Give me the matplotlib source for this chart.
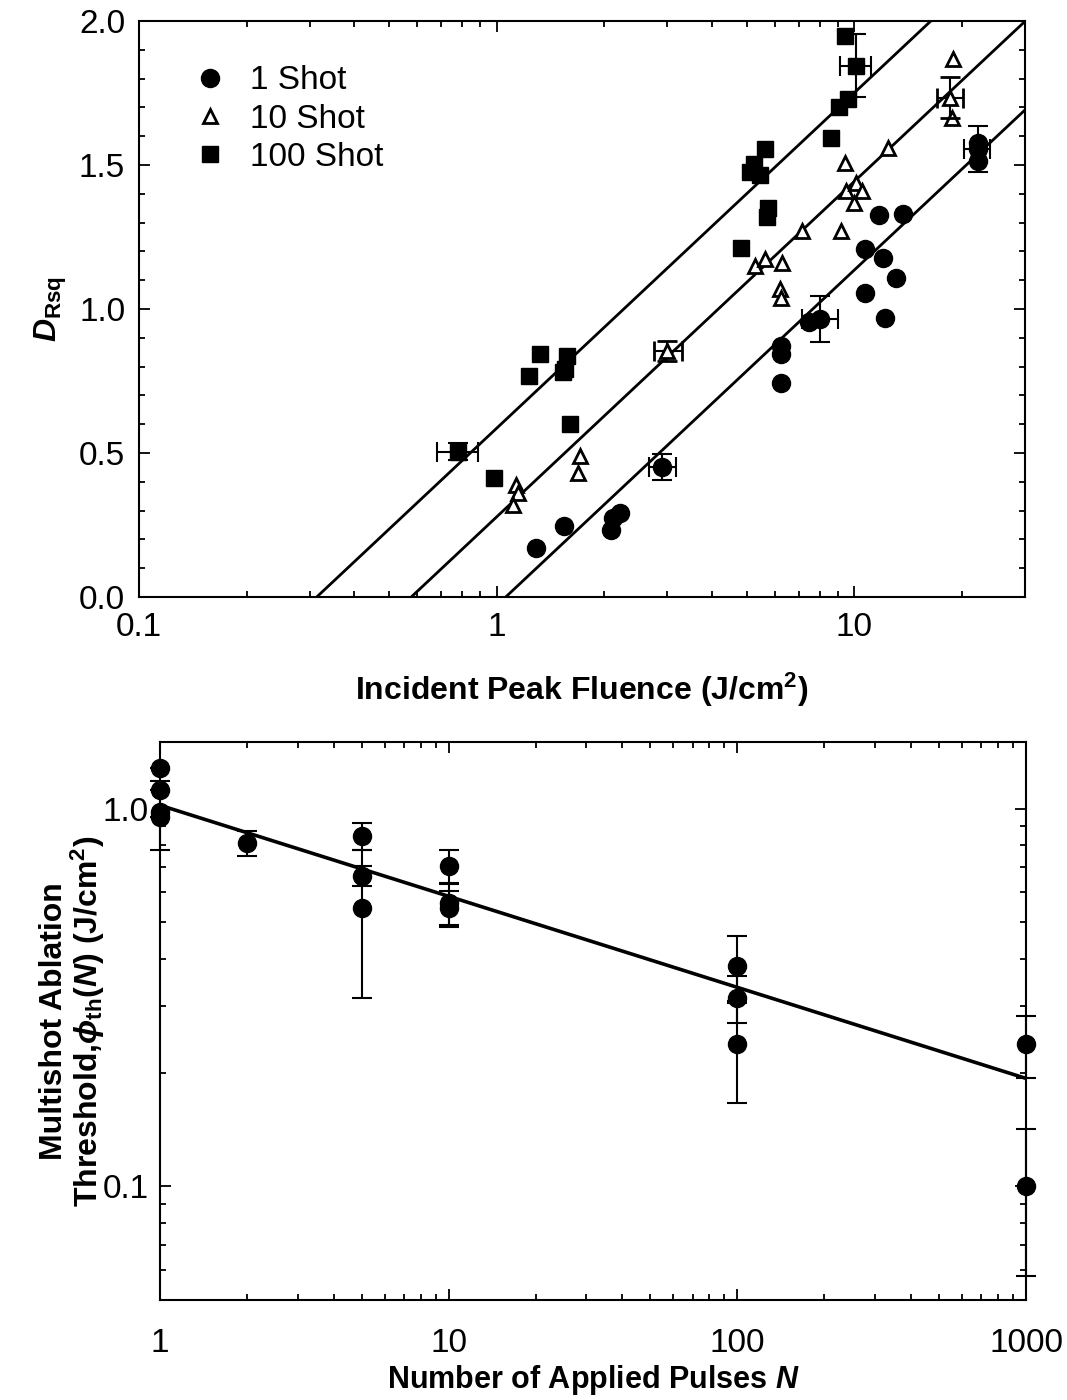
import numpy as np
import matplotlib
matplotlib.use("Agg")
import matplotlib.pyplot as plt
from matplotlib.ticker import LogLocator, FuncFormatter, MultipleLocator, NullFormatter

plt.rcParams['font.family'] = ['Liberation Sans', 'DejaVu Sans']
plt.rcParams['mathtext.fontset'] = 'custom'
plt.rcParams['mathtext.rm'] = 'Liberation Sans:bold'
plt.rcParams['mathtext.bf'] = 'Liberation Sans:bold'
plt.rcParams['mathtext.it'] = 'Liberation Sans:bold:italic'
plt.rcParams['mathtext.fallback'] = 'stixsans'

# --- top panel: D_Rsq vs incident peak fluence ---
f1 = [1.29, 1.54, 2.09, 2.11, 2.21, 6.23, 6.23, 6.23, 7.45, 10.7, 10.7, 11.7, 12.0, 12.2, 13.1, 13.7, 22.2, 22.2]
d1 = [0.17, 0.245, 0.233, 0.274, 0.293, 0.871, 0.842, 0.743, 0.954, 1.207, 1.056, 1.325, 1.178, 0.969, 1.109, 1.329, 1.578, 1.514]
f10 = [1.13, 1.15, 1.11, 1.71, 1.69, 5.29, 5.64, 6.27, 6.2, 6.25, 7.13, 9.2, 9.42, 9.5, 10.0, 10.1, 10.5, 12.4, 18.9, 18.7]
d10 = [0.39, 0.36, 0.32, 0.488, 0.43, 1.149, 1.172, 1.161, 1.068, 1.039, 1.271, 1.271, 1.508, 1.41, 1.369, 1.439, 1.41, 1.56, 1.868, 1.664]
f100 = [0.98, 1.23, 1.32, 1.53, 1.55, 1.57, 1.60, 4.83, 5.1, 5.25, 5.45, 5.64, 5.7, 5.75, 8.58, 9.03, 9.42, 9.62]
d100 = [0.413, 0.766, 0.845, 0.78, 0.79, 0.835, 0.60, 1.213, 1.475, 1.505, 1.465, 1.555, 1.32, 1.35, 1.595, 1.70, 1.949, 1.729]

# points carrying error bars (x, y, x-err low, x-err high, y-err)
e1_f = [2.9, 8.0, 22.2]
e1_d = [0.452, 0.965, 1.557]
e1_xlo = [0.23, 0.87, 1.9]
e1_xhi = [0.27, 0.97, 1.8]
e1_y = [0.045, 0.08, 0.08]
e10_f = [3.0, 18.5]
e10_d = [0.853, 1.734]
e10_xlo = [0.25, 1.5]
e10_xhi = [0.3, 1.6]
e10_y = [0.035, 0.07]
e100_f = [0.78, 10.1]
e100_d = [0.505, 1.845]
e100_xlo = [0.1, 1.0]
e100_xhi = [0.105, 1.0]
e100_y = [0.03, 0.11]

# fitted lines: D = slope*log10(F/Fth)
fth = [1.06, 0.577, 0.314]
slope = 1.165

# --- bottom panel: multishot threshold vs N ---
n_pulses = [1, 1, 1, 1, 2, 5, 5, 5, 10, 10, 10, 100, 100, 100, 1000, 1000]
phi_th = [1.28, 1.12, 0.98, 0.95, 0.81, 0.848, 0.664, 0.546, 0.706, 0.563, 0.546, 0.383, 0.315, 0.238, 0.238, 0.1]
phi_err = [0, 0, 0.205, 0, 0.06, 0.07, 0.04, 0.23, 0.07, 0.07, 0.06, 0.077, 0.045, 0.072, 0.045, 0.042]
phi1 = 1.02
s_exp = -0.241

fig = plt.figure(figsize=(10.67, 14), dpi=100)
ax1 = fig.add_axes([0.1303, 0.5736, 0.8304, 0.4114])
ax2 = fig.add_axes([0.15, 0.0714, 0.8116, 0.3986])

ebkw = dict(ecolor='black', elinewidth=1.5, capsize=7, capthick=1.5, linestyle='none')

# fit lines
xs = np.logspace(-1, np.log10(30), 200)
for t in fth:
    ys = slope * np.log10(xs / t)
    ax1.plot(xs, ys, color='black', lw=2.0, zorder=2)

ax1.plot(f1, d1, 'o', color='black', ms=13, zorder=3)
ax1.plot(f10, d10, '^', mfc='white', mec='black', mew=2, ms=10, zorder=3)
ax1.plot(f100, d100, 's', color='black', ms=11.5, zorder=3)
ax1.errorbar(e1_f, e1_d, xerr=[e1_xlo, e1_xhi], yerr=e1_y, fmt='o', color='black', ms=13, zorder=4, **ebkw)
ax1.errorbar(e10_f, e10_d, xerr=[e10_xlo, e10_xhi], yerr=e10_y, fmt='^', mfc='white', mec='black',
             mew=2, ms=10, zorder=4, **ebkw)
ax1.errorbar(e100_f, e100_d, xerr=[e100_xlo, e100_xhi], yerr=e100_y, fmt='s', color='black', ms=11.5, zorder=4, **ebkw)

# legend
h1, = ax1.plot([], [], 'o', color='black', ms=13)
h2, = ax1.plot([], [], '^', mfc='white', mec='black', mew=2, ms=10)
h3, = ax1.plot([], [], 's', color='black', ms=11.5)
ax1.legend([h1, h2, h3], ['1 Shot', '10 Shot', '100 Shot'], loc='upper left',
           bbox_to_anchor=(0.02, 0.975), frameon=False, fontsize=24,
           handletextpad=0.5, labelspacing=0.22, handlelength=1.4)

ax1.set_xscale('log')
ax1.set_xlim(0.1, 30)
ax1.set_ylim(0, 2.0)
ax1.yaxis.set_major_locator(MultipleLocator(0.5))
ax1.yaxis.set_minor_locator(MultipleLocator(0.1))
ax1.yaxis.set_major_formatter(FuncFormatter(lambda v, p: f'{v:.1f}'))
ax1.xaxis.set_major_formatter(FuncFormatter(lambda v, p: f'{v:g}'))
ax1.xaxis.set_minor_locator(LogLocator(base=10, subs=np.arange(2, 10)))
ax1.xaxis.set_minor_formatter(NullFormatter())
ax1.set_xlabel('Incident Peak Fluence (J/cm$^2$)', fontsize=23, fontweight='bold', labelpad=20)
ax1.set_ylabel(r'$D_{\mathrm{Rsq}}$', fontsize=23, labelpad=7)

# bottom panel
nn = np.logspace(0, 3, 100)
ax2.plot(nn, phi1 * nn ** s_exp, color='black', lw=2.6, zorder=2)
ax2.errorbar(n_pulses, phi_th, yerr=phi_err, fmt='o', color='black', ms=13, zorder=3,
             clip_on=False, **ebkw)

ax2.set_xscale('log')
ax2.set_yscale('log')
ax2.set_xlim(1, 1000)
ax2.set_ylim(0.05, 1.5)
ax2.xaxis.set_major_formatter(FuncFormatter(lambda v, p: f'{v:g}'))
ax2.yaxis.set_major_formatter(FuncFormatter(lambda v, p: f'{v:.1f}'))
ax2.xaxis.set_minor_locator(LogLocator(base=10, subs=np.arange(2, 10)))
ax2.yaxis.set_minor_locator(LogLocator(base=10, subs=np.arange(2, 10)))
ax2.xaxis.set_minor_formatter(NullFormatter())
ax2.yaxis.set_minor_formatter(NullFormatter())
ax2.set_xlabel('Number of Applied Pulses $N$', fontsize=22, fontweight='bold', labelpad=3)
ax2.set_ylabel('Multishot Ablation\n' + r'Threshold,$\phi_{\mathrm{th}}(N)$ (J/cm$^2$)',
               fontsize=23, fontweight='bold', labelpad=-3, linespacing=1.0)

for ax in (ax1, ax2):
    for sp in ax.spines.values():
        sp.set_linewidth(1.5)
    ax.tick_params(which='both', direction='in', top=True, right=True, width=1.3)
    ax.tick_params(which='major', length=8, labelsize=24)
    ax.tick_params(which='minor', length=4.5)
ax1.tick_params(which='major', axis='x', pad=11)
ax1.tick_params(which='major', axis='y', pad=10)
ax2.tick_params(which='major', axis='x', pad=20)
ax2.tick_params(which='major', axis='y', pad=8)

fig.savefig('out.png', dpi=100)
